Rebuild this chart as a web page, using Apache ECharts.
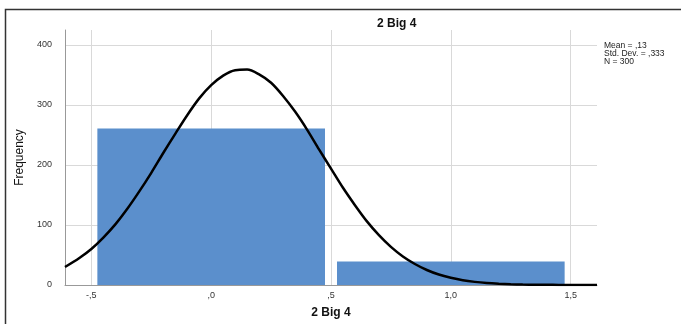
<!DOCTYPE html>
<html>
<head>
<meta charset="utf-8">
<script src="https://cdn.jsdelivr.net/npm/echarts@6/dist/echarts.min.js"></script>
<style>html,body{margin:0;padding:0;background:#fff}#c{width:681px;height:324px}</style>
</head>
<body>
<div id="c"></div>
<script>
// Histogram bins: [start, end, count]
var binStarts = [-0.5, 0.5];
var binEnds = [0.5, 1.5];
var binCounts = [261, 39];
// Normal curve points: x and frequency
var curveX = [-0.61, -0.55, -0.5, -0.45, -0.4, -0.35, -0.3, -0.25, -0.2, -0.15, -0.1, -0.05, 0.0, 0.05, 0.1, 0.15, 0.2, 0.25, 0.3, 0.35, 0.4, 0.45, 0.5, 0.55, 0.6, 0.65, 0.7, 0.75, 0.8, 0.85, 0.9, 0.95, 1.0, 1.05, 1.1, 1.15, 1.2, 1.25, 1.3, 1.35, 1.4, 1.45, 1.5, 1.55, 1.61];
var curveY = [30, 45, 60, 79, 101, 127, 156, 187, 220, 252, 283, 311, 333, 349, 358, 359, 351, 337, 315, 289, 259, 226, 194, 162, 133, 106, 83, 63.5, 47.5, 35, 25, 17.4, 12, 7.9, 5.2, 3.3, 2.1, 1.3, 0.8, 0.45, 0.3, 0.15, 0.1, 0.05, 0.02];
var xTicks = [-0.5, 0, 0.5, 1, 1.5];
var xTickLabels = ['-,5', ',0', ',5', '1,0', '1,5'];
var yTicks = [0, 100, 200, 300, 400];
var legendLines = ['Mean = ,13', 'Std. Dev. = ,333', 'N = 300'];
var titleText = '2 Big 4';
var xName = '2 Big 4';
var yName = 'Frequency';

var barData = binStarts.map(function (s, i) { return [s, binEnds[i], binCounts[i]]; });
var lineData = curveX.map(function (x, i) { return [x, curveY[i]]; });

var chart = echarts.init(document.getElementById('c'));
var font = 'Liberation Sans, Arial, sans-serif';
chart.setOption({
  animation: false,
  textStyle: { fontFamily: font },
  title: {
    text: titleText, left: 372, top: 13,
    textStyle: { fontSize: 12, fontWeight: 'bold', color: '#111', fontFamily: font }
  },
  grid: { left: 65, right: 84, top: 30, bottom: 39 },
  xAxis: {
    type: 'value', min: -0.61, max: 1.61,
    name: xName, nameLocation: 'middle', nameGap: 22,
    nameTextStyle: { fontSize: 12, fontWeight: 'bold', color: '#111', fontFamily: font },
    axisLine: { show: true, onZero: false, lineStyle: { color: '#999', width: 1 } },
    axisTick: { show: false, customValues: xTicks },
    axisLabel: {
      customValues: xTicks, fontSize: 9, color: '#333', margin: 6,
      formatter: function (v) { var i = xTicks.indexOf(v); return i >= 0 ? xTickLabels[i] : ''; }
    },
    splitLine: { show: true, lineStyle: { color: '#d9d9d9', width: 1 } }
  },
  yAxis: {
    type: 'value', min: 0, max: 425,
    name: yName, nameLocation: 'middle', nameGap: 38,
    nameTextStyle: { fontSize: 12, color: '#111', fontFamily: font },
    axisLine: { show: true, onZero: false, lineStyle: { color: '#999', width: 1 } },
    axisTick: { show: false, customValues: yTicks },
    axisLabel: { customValues: yTicks, fontSize: 9, color: '#333', margin: 13 },
    splitLine: { show: true, lineStyle: { color: '#d9d9d9', width: 1 } }
  },
  graphic: [
    {
      type: 'rect', silent: true, z: 100,
      shape: { x: 5.5, y: 9.5, width: 760, height: 400 },
      style: { fill: 'none', stroke: '#333', lineWidth: 1.5 }
    },
    {
      type: 'text', left: 604, top: 41, z: 100,
      style: { text: legendLines.join('\n'), fontSize: 8.5, lineHeight: 8, fill: '#222', fontFamily: font }
    }
  ],
  series: [
    {
      type: 'custom',
      data: barData,
      encode: { x: [0, 1], y: 2 },
      renderItem: function (params, api) {
        var p0 = api.coord([api.value(0), api.value(2)]);
        var p1 = api.coord([api.value(1), 0]);
        var inset = 6;
        return {
          type: 'rect',
          shape: { x: p0[0] + inset, y: p0[1], width: p1[0] - p0[0] - 2 * inset, height: p1[1] - p0[1] },
          style: { fill: '#5b8fcc' }
        };
      },
      z: 2
    },
    {
      type: 'line', data: lineData, smooth: 0.3, showSymbol: false, symbol: 'none',
      lineStyle: { color: '#000', width: 2.5 }, z: 5
    }
  ]
});
</script>
</body>
</html>
